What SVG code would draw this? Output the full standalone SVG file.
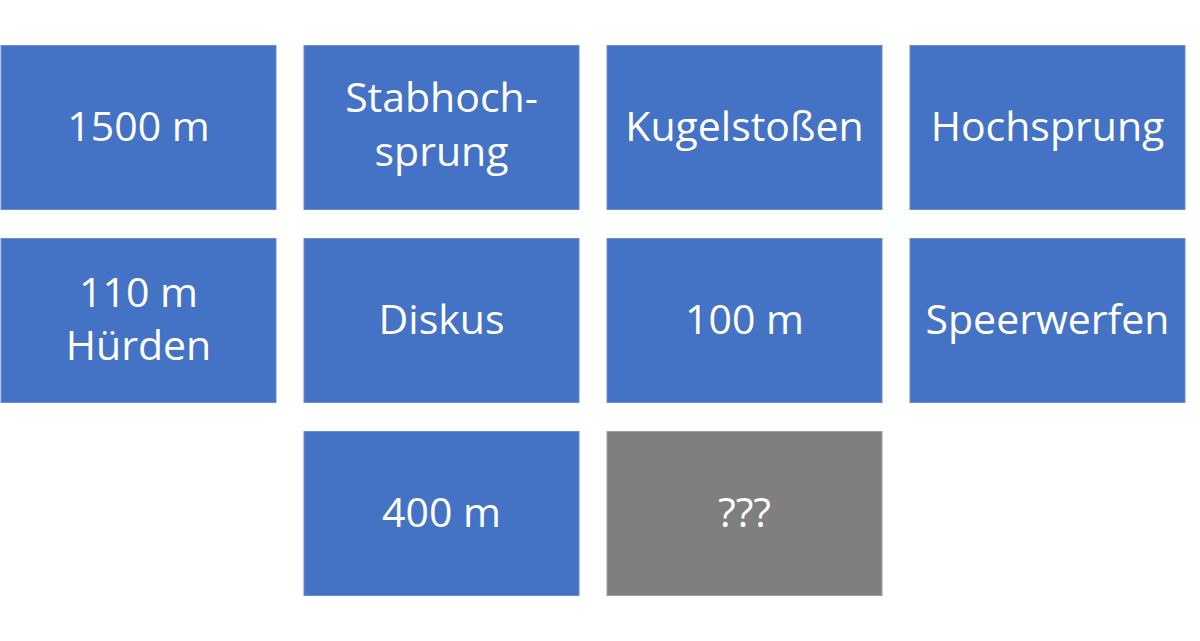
<svg xmlns="http://www.w3.org/2000/svg" width="1200" height="641" viewBox="0 0 1200 641">
<style>
.b{fill:#4472C4;stroke:#6A8FD0;stroke-width:1}
.g{fill:#7F7F7F;stroke:#A0A0A0;stroke-width:1}
text{font-family:"Open Sans","Liberation Sans",sans-serif;font-size:41px;fill:#FFFFFF;text-anchor:middle}
</style>
<rect width="1200" height="641" fill="#FFFFFF"/>
<g id="n1"><rect class="b" x="1" y="45.5" width="275" height="164"/><text x="138.5" y="141">1500 m</text></g>
<g id="n2"><rect class="b" x="304" y="45.5" width="275" height="164"/><text x="441.5" y="112">Stabhoch-</text><text x="441.5" y="166">sprung</text></g>
<g id="n3"><rect class="b" x="607" y="45.5" width="275" height="164"/><text x="744.5" y="141">Kugelstoßen</text></g>
<g id="n4"><rect class="b" x="910" y="45.5" width="275" height="164"/><text x="1047.5" y="141">Hochsprung</text></g>
<g id="n5"><rect class="b" x="1" y="238.5" width="275" height="164"/><text x="138.5" y="307">110 m</text><text x="138.5" y="360">Hürden</text></g>
<g id="n6"><rect class="b" x="304" y="238.5" width="275" height="164"/><text x="441.5" y="334">Diskus</text></g>
<g id="n7"><rect class="b" x="607" y="238.5" width="275" height="164"/><text x="744.5" y="334">100 m</text></g>
<g id="n8"><rect class="b" x="910" y="238.5" width="275" height="164"/><text x="1047.5" y="334">Speerwerfen</text></g>
<g id="n9"><rect class="b" x="304" y="431.5" width="275" height="164"/><text x="441.5" y="527">400 m</text></g>
<g id="n10"><rect class="g" x="607" y="431.5" width="275" height="164"/><text x="744.5" y="527">???</text></g>
<g id="connectors"></g>
</svg>
